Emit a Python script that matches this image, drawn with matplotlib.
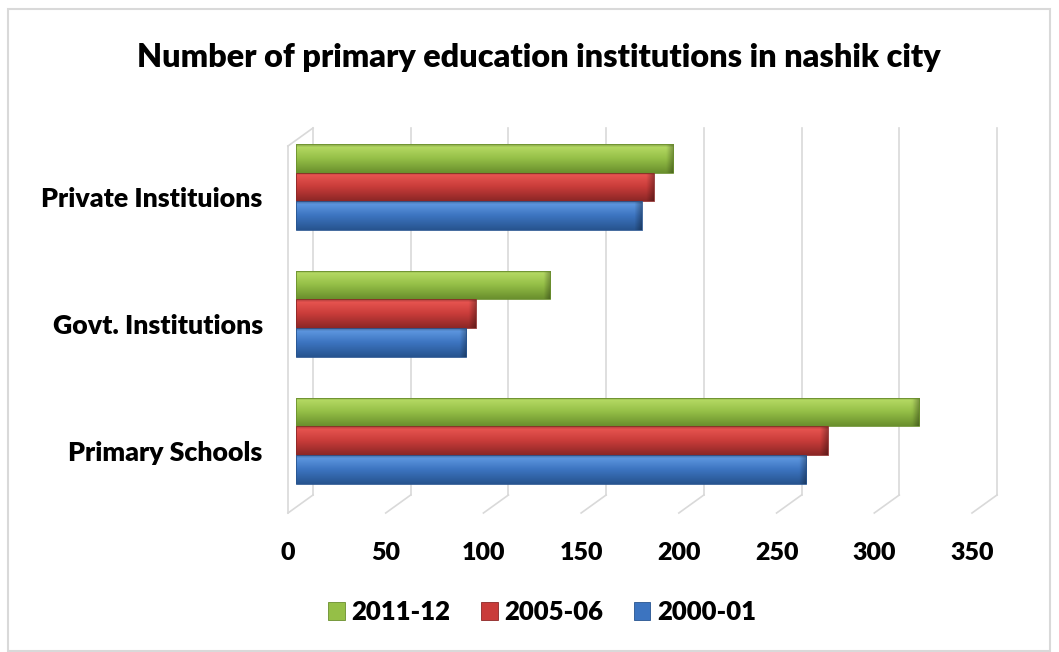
import numpy as np
import matplotlib.pyplot as plt
from matplotlib.colors import to_rgb
from matplotlib.patches import Rectangle, Patch
from matplotlib.transforms import ScaledTranslation

plt.rcParams['font.family'] = ['Lato', 'DejaVu Sans']
plt.rcParams['font.weight'] = 'heavy'

title = 'Number of primary education institutions in nashik city'
categories = ['Primary Schools', 'Govt. Institutions', 'Private Instituions']
years = ['2011-12', '2005-06', '2000-01']
counts_2000 = [261, 87, 177]
counts_2005 = [272, 92, 183]
counts_2011 = [319, 130, 193]
ticks = [0, 50, 100, 150, 200, 250, 300, 350]

# (top, middle, bottom) shades used for the bevelled bar look
shades = {
    '2011-12': ('#b3d862', '#95bf47', '#6a8f2d'),
    '2005-06': ('#e6534f', '#c93c3a', '#8c2726'),
    '2000-01': ('#5c95de', '#3c74c0', '#27548f'),
}

W, H = 1059, 652
fig = plt.figure(figsize=(W / 100, H / 100), dpi=100)

# light frame round the whole chart
fig.patches.append(Rectangle((8 / W, 1 / H), 1042 / W, (H - 10) / H,
                             transform=fig.transFigure, fill=False,
                             edgecolor='#d9d9d9', lw=1.5))

ax = fig.add_axes([296 / W, 1 - 507 / H, 684 / W, 367 / H])
ax.set_xlim(0, 350)
ylo, yhi = -0.52, 2.37
ax.set_ylim(ylo, yhi)

# pixel -> data conversions for the oblique depth of the walls
px_x = 350 / 684
px_y = (yhi - ylo) / 367
bdx, bdy = 17 * px_x, 12 * px_y     # bar plane -> back wall
fdx, fdy = -8 * px_x, -6 * px_y     # bar plane -> front edge

grid_c = '#d9d9d9'
for t in ticks:
    ax.plot([t + bdx, t + bdx], [ylo + bdy, yhi + bdy], color=grid_c, lw=1.2,
            clip_on=False, zorder=1)
    ax.plot([t + bdx, t + fdx], [ylo + bdy, ylo + fdy], color=grid_c, lw=1.2,
            clip_on=False, zorder=1)
# left wall
ax.plot([fdx, fdx], [ylo + fdy, yhi + fdy], color=grid_c, lw=1.2, clip_on=False, zorder=1)
ax.plot([fdx, bdx], [yhi + fdy, yhi + bdy], color=grid_c, lw=1.2, clip_on=False, zorder=1)


def bar_image(top, mid, bot, width_px, n=60, m=300):
    top, mid, bot = np.array(to_rgb(top)), np.array(to_rgb(mid)), np.array(to_rgb(bot))
    t = np.linspace(0, 1, n)[:, None]
    col = np.where(t < 0.5, bot + (mid - bot) * (t / 0.5),
                   mid + (top - mid) * ((t - 0.5) / 0.4).clip(0, 1))
    col = np.where(t > 0.93, col * 0.85, col)
    img = np.repeat(col[:, None, :], m, axis=1)
    # darker rounded end on the right
    xs = np.linspace(0, 1, m) * width_px
    end = ((xs - (width_px - 7)) / 7).clip(0, 1)
    img = img * (1 - 0.3 * end)[None, :, None]
    return img.clip(0, 1)


h = 0.228
y = np.arange(len(categories))
series = [(counts_2011, '2011-12', h), (counts_2005, '2005-06', 0.0), (counts_2000, '2000-01', -h)]
for vals, name, off in series:
    top, mid, bot = shades[name]
    bars = ax.barh(y + off, vals, height=h, color='none', edgecolor=bot, lw=0.6, zorder=3)
    for bar in bars:
        x0, y0 = bar.get_x(), bar.get_y()
        w, hh = bar.get_width(), bar.get_height()
        im = ax.imshow(bar_image(top, mid, bot, w / px_x), extent=[x0, x0 + w, y0, y0 + hh],
                       origin='lower', aspect='auto', interpolation='bilinear', zorder=2.5)
        im.set_clip_path(bar)
ax.set_xlim(0, 350)
ax.set_ylim(ylo, yhi)

for s in ax.spines.values():
    s.set_visible(False)
ax.set_xticks(ticks)
ax.set_xticklabels([str(t) for t in ticks], fontsize=18, fontweight='heavy')
ax.set_yticks(y)
ax.set_yticklabels(categories, fontsize=19.3, fontweight='heavy')
ax.tick_params(axis='x', length=0, pad=25)
ax.tick_params(axis='y', length=0, pad=24)
for lab in ax.get_xticklabels():
    lab.set_transform(lab.get_transform() + ScaledTranslation(-8 / 100, 0, fig.dpi_scale_trans))
for lab in ax.get_yticklabels():
    lab.set_transform(lab.get_transform() + ScaledTranslation(0, -10 / 100, fig.dpi_scale_trans))

fig.text(539 / W, 1 - 57 / H, title, ha='center', va='center', fontsize=23.3, fontweight='heavy')

handles = [Patch(facecolor=shades[n][1], edgecolor=shades[n][2], lw=0.6) for n in years]
fig.legend(handles, years, loc='center', bbox_to_anchor=(542 / W, 1 - 612 / H), ncol=3,
           frameon=False, handlelength=0.66, handleheight=0.66, handletextpad=0.27,
           columnspacing=1.17, prop={'weight': 'heavy', 'size': 18.5})

fig.savefig('out.png', dpi=100)
